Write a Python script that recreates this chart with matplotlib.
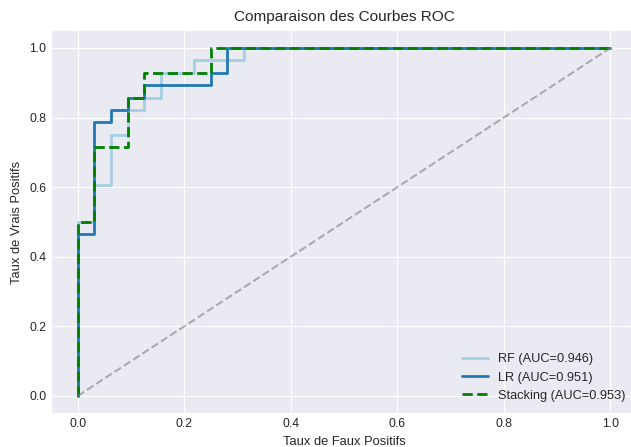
import matplotlib
matplotlib.use("Agg")
import matplotlib.pyplot as plt
import seaborn as sns
import numpy as np

sns.set_style("darkgrid")
plt.rcParams['font.family'] = ['Liberation Sans', 'DejaVu Sans']

n_neg = 32
n_pos = 28

rf_fp = [0, 0, 1, 1, 2, 2, 3, 3, 4, 4, 5, 5, 7, 7, 10, 10, 32]
rf_tp = [0, 14, 14, 17, 17, 21, 21, 23, 23, 24, 24, 26, 26, 27, 27, 28, 28]

lr_fp = [0, 0, 1, 1, 2, 2, 3, 3, 4, 4, 8, 8, 9, 9, 32]
lr_tp = [0, 13, 13, 22, 22, 23, 23, 24, 24, 25, 25, 26, 26, 28, 28]

st_fp = [0, 0, 1, 1, 3, 3, 4, 4, 8, 8, 32]
st_tp = [0, 14, 14, 20, 20, 24, 24, 26, 26, 28, 28]

labels = ["RF (AUC=0.946)", "LR (AUC=0.951)", "Stacking (AUC=0.953)"]

fig = plt.figure(figsize=(6.31, 4.47), dpi=100)
ax = fig.add_axes([51/631, 1 - 413.4/447, (637 - 51)/631, (413.4 - 30.5)/447])

ax.plot(np.array(rf_fp)/n_neg, np.array(rf_tp)/n_pos, color="#a6cee3", lw=2, label=labels[0])
ax.plot(np.array(lr_fp)/n_neg, np.array(lr_tp)/n_pos, color="#1f78b4", lw=2, label=labels[1])
ax.plot(np.array(st_fp)/n_neg, np.array(st_tp)/n_pos, color="green", lw=2, ls="--", label=labels[2])
ax.plot([0, 1], [0, 1], color="gray", ls="--", alpha=0.6, lw=1.5)

ax.set_xlim(-0.05, 1.05)
ax.set_ylim(-0.05, 1.05)
ax.set_xticks([0, 0.2, 0.4, 0.6, 0.8, 1.0])
ax.set_yticks([0, 0.2, 0.4, 0.6, 0.8, 1.0])
ax.tick_params(labelsize=8.8, colors="#262626", length=0, pad=3.5)
ax.set_xlabel("Taux de Faux Positifs", fontsize=9.3, color="#262626", labelpad=4)
ax.set_ylabel("Taux de Vrais Positifs", fontsize=9.3, color="#262626", labelpad=4)
ax.set_title("Comparaison des Courbes ROC", fontsize=11.1, color="#262626", pad=7)
ax.legend(loc="lower right", fontsize=9.2, frameon=False)

fig.savefig("out.png", dpi=100)
